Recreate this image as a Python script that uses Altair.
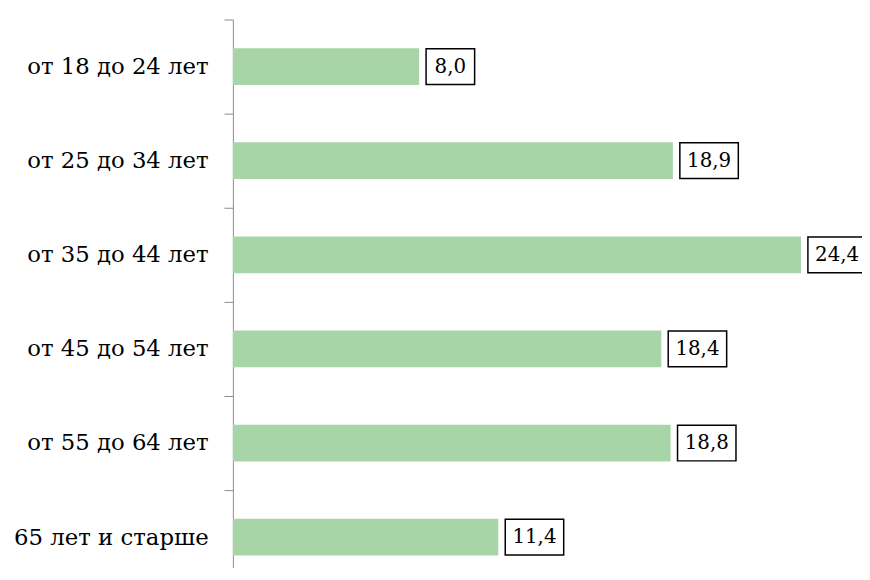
import altair as alt
import pandas as pd

categories = ["от 18 до 24 лет", "от 25 до 34 лет", "от 35 до 44 лет",
              "от 45 до 54 лет", "от 55 до 64 лет", "65 лет и старше"]
values = [8.0, 18.9, 24.4, 18.4, 18.8, 11.4]
labels = ["8,0", "18,9", "24,4", "18,4", "18,8", "11,4"]

df = pd.DataFrame({"cat": categories, "val": values, "lab": labels})

FONT = "DejaVu Serif"
FS = 23
VFS = 20

y = alt.Y("cat:N", sort=categories, title=None,
          scale=alt.Scale(range=[0, 570], paddingInner=0, paddingOuter=0),
          axis=alt.Axis(labelFont=FONT, labelFontSize=FS, labelColor="black",
                        domainColor="#8c8c8c", tickColor="#8c8c8c", tickSize=9,
                        tickBand="extent", labelPadding=16, labelLimit=300,
                        domainWidth=1, tickWidth=1))
x = alt.X("val:Q", scale=alt.Scale(domain=[0, 26]), axis=None)

base = alt.Chart(df).encode(y=y)

bars = base.mark_bar(color="#a8d5a8", size=37).encode(x=x)

short = base.transform_filter("length(datum.lab) <= 3")
long_ = base.transform_filter("length(datum.lab) > 3")

box_s = short.mark_bar(fill="white", stroke="black", strokeWidth=1.5, size=36,
                       xOffset=7, x2Offset=56).encode(x=x, x2="val:Q")
box_l = long_.mark_bar(fill="white", stroke="black", strokeWidth=1.5, size=36,
                       xOffset=7, x2Offset=66).encode(x=x, x2="val:Q")
txt_s = short.mark_text(font=FONT, fontSize=VFS, color="black", align="center",
                        baseline="middle", dx=31.5).encode(x=x, text="lab:N")
txt_l = long_.mark_text(font=FONT, fontSize=VFS, color="black", align="center",
                        baseline="middle", dx=36.5).encode(x=x, text="lab:N")

chart = alt.layer(bars, box_s, box_l, txt_s, txt_l).properties(
    width=611, height=551,
    autosize=alt.AutoSizeParams(type="none"),
    padding={"left": 227, "top": 9, "right": 24, "bottom": 0},
).configure(background="white").configure_view(stroke=None, strokeWidth=0)

chart.save("out.html", embed_options={"renderer": "svg", "actions": False})
